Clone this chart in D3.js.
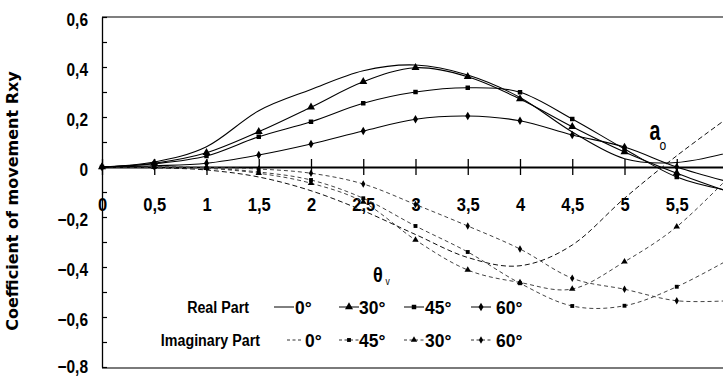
<!DOCTYPE html>
<html><head><meta charset="utf-8">
<script src="https://cdn.jsdelivr.net/npm/d3@7"></script>
<style>body{margin:0;background:#fff} svg{display:block}</style>
</head><body><svg id="c" width="723" height="378"></svg>
<script>
const xValues = [0,0.5,1,1.5,2,2.5,3,3.5,4,4.5,5,5.5,6];
const real0  = [0,0.02,0.081,0.225,0.31,0.385,0.408,0.368,0.278,0.14,0.033,0.018,0.058];
const real30 = [0,0.015,0.057,0.141,0.239,0.341,0.397,0.361,0.272,0.161,0.06,-0.025,-0.1];
const real45 = [0,0.013,0.044,0.121,0.181,0.255,0.30,0.317,0.299,0.192,0.072,-0.04,-0.095];
const real60 = [0,0.005,0.015,0.048,0.092,0.144,0.191,0.204,0.185,0.128,0.08,0.0,-0.06];
const imag0  = [0,-0.003,-0.012,-0.04,-0.095,-0.175,-0.27,-0.362,-0.395,-0.312,-0.125,0.045,0.2];
const imag30 = [0,0,-0.005,-0.025,-0.065,-0.14,-0.292,-0.412,-0.462,-0.488,-0.379,-0.239,-0.04];
const imag45 = [0,0,-0.004,-0.02,-0.052,-0.125,-0.236,-0.34,-0.465,-0.556,-0.555,-0.479,-0.37];
const imag60 = [0,0,-0.002,-0.008,-0.025,-0.068,-0.15,-0.236,-0.328,-0.445,-0.489,-0.535,-0.535];
const xTickValues = [0,0.5,1,1.5,2,2.5,3,3.5,4,4.5,5,5.5];
const yTickValues = [-0.8,-0.7,-0.6,-0.5,-0.4,-0.3,-0.2,-0.1,0,0.1,0.2,0.3,0.4,0.5,0.6];
const realLegend = ["0°","30°","45°","60°"];
const imagLegend = ["0°","45°","30°","60°"];
const yTitle = "Coefficient of movement Rxy";

const svg = d3.select("#c");
svg.append("rect").attr("width",723).attr("height",378).attr("fill","#fff");
const x = d3.scaleLinear().domain([0,6]).range([102,729]);
const y = d3.scaleLinear().domain([-0.8,0.6]).range([367,17]);
const NARROW = "'Liberation Sans', Arial, sans-serif";
const SX = 0.86;
const fmt = v => { const s = d3.format("~g")(+v.toFixed(2)); return s.replace(".", ","); };

// frame
svg.append("line").attr("x1",102).attr("x2",723).attr("y1",y(0.6)).attr("y2",y(0.6)).attr("stroke","#000").attr("stroke-width",1.2);
svg.append("line").attr("x1",102).attr("x2",723).attr("y1",y(-0.8)+1).attr("y2",y(-0.8)+1).attr("stroke","#7a7a7a").attr("stroke-width",2);

// y axis
const yAxis = svg.append("g").attr("transform","translate(102,0)")
  .call(d3.axisLeft(y).tickValues(yTickValues).tickSizeInner(-5).tickSizeOuter(0).tickPadding(14)
    .tickFormat(d => (Math.round(Math.abs(d)*10) % 2 === 0) ? fmt(d) : ""));
yAxis.select(".domain").attr("stroke","#000").attr("stroke-width",1.3);
yAxis.selectAll(".tick line").attr("stroke","#000").attr("stroke-width",1.2);
yAxis.selectAll(".tick text").attr("x",0).attr("dy","0.45em")
  .attr("transform",d => `translate(-14,${d <= -0.75 ? -3 : 0}) scale(0.86,1)`)
  .attr("font-family",NARROW).attr("font-weight","bold").attr("font-size",18).attr("fill","#000");

// x axis (zero line)
const xAxis = svg.append("g").attr("transform",`translate(0,${y(0)})`)
  .call(d3.axisBottom(x).tickValues(xTickValues).tickSizeInner(8).tickSizeOuter(0).tickFormat(fmt));
xAxis.select(".domain").attr("stroke","#000").attr("stroke-width",2);
xAxis.selectAll(".tick line").attr("y1",-8).attr("y2",8).attr("stroke","#000").attr("stroke-width",1.3);
xAxis.selectAll(".tick text").attr("y",0).attr("dy","0.35em")
  .attr("transform",`translate(0,38) scale(0.92,1)`)
  .attr("font-family",NARROW).attr("font-weight","bold").attr("font-size",18).attr("fill","#000");

// curves
const line = d3.line().x((d,i)=>x(xValues[i])).y(d=>y(d)).curve(d3.curveCatmullRom.alpha(0));
const shapes = {"0":null,"30":d3.symbolTriangle,"45":d3.symbolSquare,"60":d3.symbolDiamond};
const realSeries = [["0",real0],["30",real30],["45",real45],["60",real60]];
const imagSeries = [["0",imag0],["45",imag45],["30",imag30],["60",imag60]];
const plot = svg.append("g");
imagSeries.forEach(([a,vals]) => {
  plot.append("path").attr("d",line(vals)).attr("fill","none")
    .attr("stroke", a==="0" ? "#111" : "#444").attr("stroke-width",1)
    .attr("stroke-dasharray", a==="0" ? "5,3" : "4,3");
});
realSeries.forEach(([a,vals]) => {
  plot.append("path").attr("d",line(vals)).attr("fill","none").attr("stroke","#000").attr("stroke-width",1.1);
});
const realSize = {"30":28,"45":20,"60":22};
const imagSize = {"30":18,"45":15,"60":16};
function markers(series, sizes) {
  series.forEach(([a,vals]) => {
    if (!shapes[a]) return;
    const sym = d3.symbol().type(shapes[a]).size(sizes[a]);
    plot.selectAll(null).data(vals).enter().append("path")
      .attr("d",sym).attr("fill","#000")
      .attr("transform",(d,i)=>`translate(${x(xValues[i])},${y(d)})`);
  });
}
markers(imagSeries, imagSize);
markers(realSeries, realSize);

// text helper
function txt(str, tx, ty, size, opts={}) {
  return svg.append("text").text(str)
    .attr("transform",`translate(${tx},${ty}) scale(${opts.sx ?? SX},1)`)
    .attr("text-anchor",opts.anchor || "start")
    .attr("font-family",opts.family || NARROW)
    .attr("font-weight",opts.weight || "bold")
    .attr("font-size",size).attr("fill","#000");
}

// y title
svg.append("text").text(yTitle)
  .attr("transform","translate(18,201) rotate(-90)")
  .attr("text-anchor","middle").attr("font-family","'DejaVu Sans', sans-serif")
  .attr("font-weight","bold").attr("font-size",16).attr("fill","#000");

// annotation a0
txt("a",649.5,140,28,{sx:0.7});
txt("o",659.5,150,14,{weight:"normal"});

// legend
txt("θ",373,282,21);
txt("v",385.5,285,10,{weight:"normal"});
txt("Real Part",249,313,17,{anchor:"end",sx:0.84});
txt("Imaginary Part",260,346,17,{anchor:"end",sx:0.84});
const row1 = {y:307, sample:[274,339,404,471], text:[295,359,425,496]};
const row2 = {y:340, sample:[287,339,404,471], text:[305,359,425,496]};
function legendRow(row, labels, dashed, sizes) {
  labels.forEach((lab,i) => {
    const a = lab.replace("°","");
    const x0 = row.sample[i], len = (dashed && a==="0") ? 16 : 20;
    svg.append("line").attr("x1",x0).attr("x2",x0+len).attr("y1",row.y).attr("y2",row.y)
      .attr("stroke",dashed ? "#333" : "#000").attr("stroke-width",1)
      .attr("stroke-dasharray",dashed ? "3,2.5" : null);
    if (shapes[a]) {
      svg.append("path").attr("d",d3.symbol().type(shapes[a]).size(sizes[a])())
        .attr("fill","#000").attr("transform",`translate(${x0+len/2},${row.y})`);
    }
    txt(lab,row.text[i],row.y+7,19,{sx:0.92});
  });
}
legendRow(row1, realLegend, false, realSize);
legendRow(row2, imagLegend, true, imagSize);
</script></body></html>
